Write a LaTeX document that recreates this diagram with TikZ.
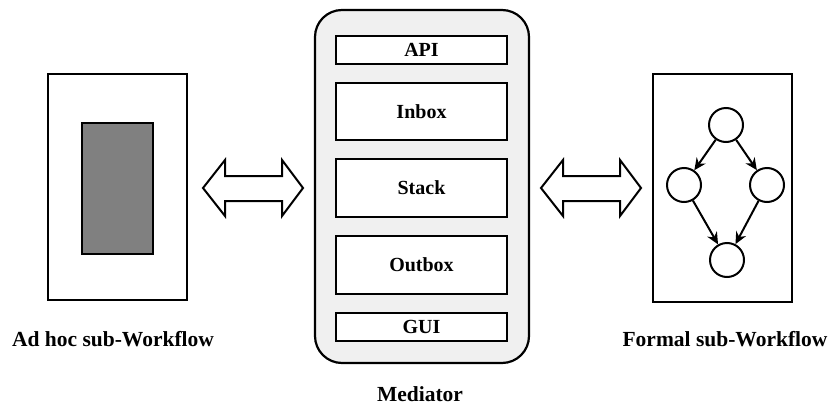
\documentclass[tikz,border=0pt]{standalone}
\usepackage{fontspec}
\setmainfont{Liberation Serif}
\usetikzlibrary{arrows.meta}
\begin{document}
\begin{tikzpicture}[x=1pt,y=-1pt,
  frame/.style={draw=black,line width=2.2pt},
  part/.style={draw=black,line width=2.2pt,fill=white,minimum width=171pt,anchor=north,font=\bfseries\fontsize{20}{22}\selectfont},
  state/.style={circle,draw=black,line width=2pt,minimum size=34pt,inner sep=0pt},
  flow/.style={-{Stealth[length=12pt,width=11pt]},line width=2pt},
  caption/.style={inner sep=1pt,font=\bfseries\fontsize{21.5}{24}\selectfont},
  fatarrow/.style={draw=black,line width=2pt,fill=white,line join=miter}]
\useasboundingbox (0,0) rectangle (830,407);
% left ad hoc
\draw[frame] (48,74) rectangle (187,300);
\draw[frame,fill=black!50] (82,123) rectangle (153,254);
\node[caption] (adhoc) at (113,339) {Ad hoc sub-Workflow};
% mediator
\draw[draw=black,line width=2.2pt,fill=black!6,rounded corners=27pt] (315,10) rectangle (529,363);
\node[part,minimum height=28pt] (api) at (421.5,35) {API};
\node[part,minimum height=57pt] (inbox) at (421.5,82) {Inbox};
\node[part,minimum height=58pt] (stack) at (421.5,158) {Stack};
\node[part,minimum height=58pt] (outbox) at (421.5,235) {Outbox};
\node[part,minimum height=28pt] (gui) at (421.5,312) {GUI};
\node[caption] (med) at (420,394) {Mediator};
% right formal
\draw[frame] (653,74) rectangle (792,302);
\node[state] (t) at (726,125) {};
\node[state] (l) at (684,185) {};
\node[state] (r) at (767,185) {};
\node[state] (b) at (727,260) {};
\draw[flow] (t) -- (l);
\draw[flow] (t) -- (r);
\draw[flow] (l) -- (b);
\draw[flow] (r) -- (b);
\node[caption] (formal) at (725,339) {Formal sub-Workflow};
% double arrows
\foreach \ox in {0,338}{
\draw[fatarrow] (203+\ox,188) -- (225+\ox,160) -- (225+\ox,176) -- (282+\ox,176) -- (282+\ox,160)
  -- (303+\ox,188) -- (282+\ox,216) -- (282+\ox,201) -- (225+\ox,201) -- (225+\ox,216) -- cycle;
}
\end{tikzpicture}
\end{document}
